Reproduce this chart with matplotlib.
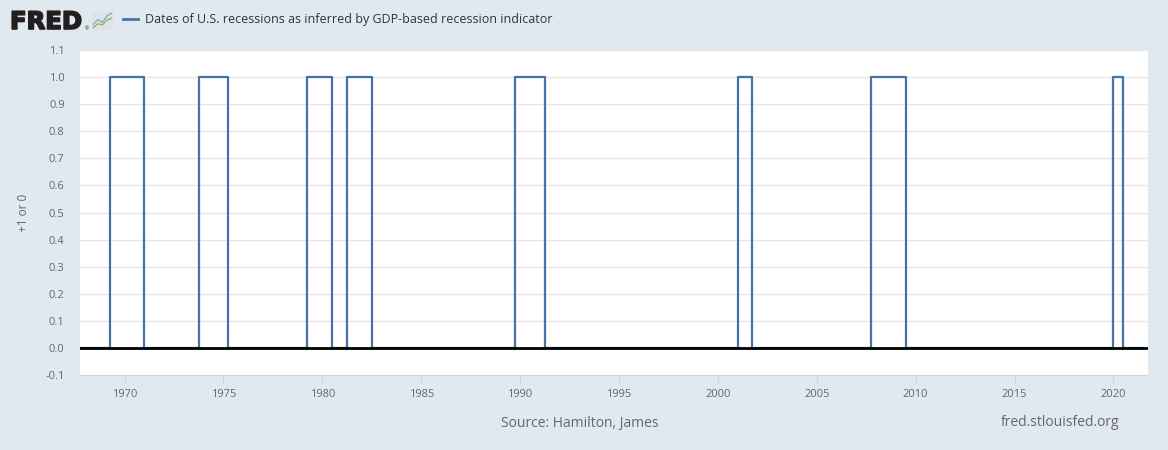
import pandas as pd
import numpy as np
import matplotlib.pyplot as plt
import matplotlib.dates as mdates
import matplotlib.patheffects as pe

# recession quarters (first quarter at 1, first quarter back at 0)
rec_start = ['1969Q2', '1973Q4', '1979Q2', '1981Q2', '1989Q4', '2001Q1', '2007Q4', '2020Q1']
rec_end = ['1971Q1', '1975Q2', '1980Q3', '1982Q3', '1991Q2', '2001Q4', '2009Q3', '2020Q3']
first_q = '1967Q4'
last_q = '2021Q3'

y_ticks = [-0.1, 0.0, 0.1, 0.2, 0.3, 0.4, 0.5, 0.6, 0.7, 0.8, 0.9, 1.0, 1.1]
x_years = [1970, 1975, 1980, 1985, 1990, 1995, 2000, 2005, 2010, 2015, 2020]

bg = '#e1e9f0'
line_col = '#4572a7'
font = ['Open Sans', 'DejaVu Sans']
plt.rcParams['font.family'] = font

# build quarterly 0/1 series from the periods
quarters = pd.period_range(first_q, last_q, freq='Q')
vals = np.zeros(len(quarters))
for s, e in zip(rec_start, rec_end):
    mask = (quarters >= pd.Period(s, 'Q')) & (quarters < pd.Period(e, 'Q'))
    vals[mask] = 1
dates = quarters.to_timestamp()

fig = plt.figure(figsize=(11.68, 4.5), dpi=100, facecolor=bg)
ax = fig.add_axes([80/1168, 1 - 375/450, (1148 - 80)/1168, (375 - 50)/450])
ax.set_facecolor('white')

ax.step(dates, vals, where='post', color=line_col, lw=1.6, zorder=3)
ax.axhline(0, color='black', lw=2, zorder=4)

ax.set_ylim(-0.1, 1.1)
ax.set_yticks(y_ticks)
ax.set_yticklabels([f'{v:.1f}' for v in y_ticks])
ax.set_xlim(pd.Timestamp('1967-10-01'), pd.Timestamp('2021-10-01'))
ax.set_xticks([pd.Timestamp(f'{y}-01-01') for y in x_years])
ax.xaxis.set_major_formatter(mdates.DateFormatter('%Y'))

ax.grid(axis='y', color='#e6e6e6', lw=1)
ax.set_axisbelow(True)
for side in ['top', 'right', 'left']:
    ax.spines[side].set_visible(False)
ax.spines['bottom'].set_color('#ccd6eb')
ax.tick_params(axis='y', length=0, labelsize=8, labelcolor='#666666', pad=11)
ax.tick_params(axis='x', length=6, color='#ccd6eb', labelsize=8, labelcolor='#666666', pad=4)
ax.set_ylabel('+1 or 0', fontsize=8.5, color='#666666')
ax.yaxis.set_label_coords((30 - 80)/1068, 0.5)

# header: logo + legend
logo = fig.text(10/1168, 1 - 29/450, 'FRED', fontsize=17.5, fontweight='bold', color='#231f20',
                va='baseline', ha='left', family=['DejaVu Sans'])
logo.set_path_effects([pe.withStroke(linewidth=1.2, foreground='#231f20')])
fig.text(85/1168, 1 - 30/450, '®', fontsize=3.5, color='#231f20', va='baseline', ha='left')
icon = fig.add_axes([92/1168, 1 - 30/450, 21/1168, 19/450])
icon.set_facecolor('#dfe3e6')
icon.plot([0, 1, 2, 3, 4], [1.2, 2.2, 1.6, 3.0, 3.5], color='#7aa5d2', lw=0.9)
icon.plot([0, 1, 2, 3, 4], [0.5, 1.3, 1.1, 2.1, 2.5], color='#7bbf3a', lw=0.9)
icon.set_xlim(-0.3, 4.3)
icon.set_ylim(0, 4)
icon.set_xticks([])
icon.set_yticks([])
for sp in icon.spines.values():
    sp.set_visible(False)

fig.lines.append(plt.Line2D([123/1168, 138/1168], [1 - 19/450] * 2, color=line_col, lw=2,
                            transform=fig.transFigure))
fig.text(145/1168, 1 - 19/450, 'Dates of U.S. recessions as inferred by GDP-based recession indicator',
         fontsize=9, color='#333333', va='center', ha='left')

# footer
fig.text(580/1168, 1 - 423/450, 'Source: Hamilton, James', fontsize=10, color='#666666',
         va='center', ha='center')
fig.text(1119/1168, 1 - 423/450, 'fred.stlouisfed.org', fontsize=10, color='#666666',
         va='center', ha='right')

fig.savefig('out.png', dpi=100, facecolor=bg)
